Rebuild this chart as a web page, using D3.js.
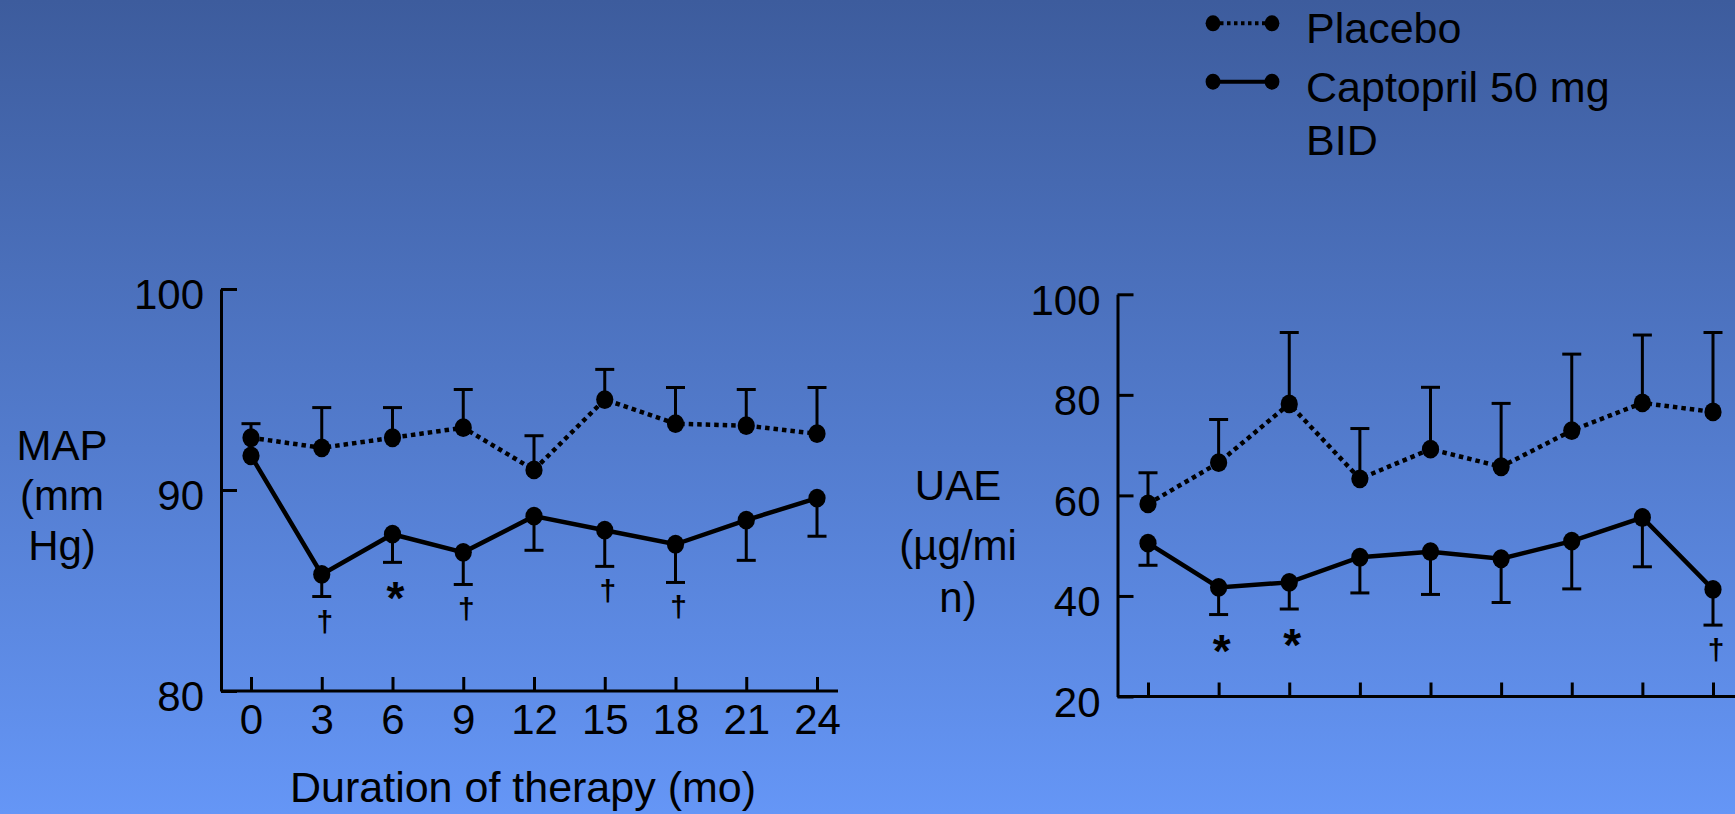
<!DOCTYPE html>
<html lang="en">
<head>
<meta charset="UTF-8">
<title>MAP and UAE by duration of therapy</title>
<script src="https://cdn.jsdelivr.net/npm/d3@7"></script>
<style>
  html, body { margin: 0; padding: 0; overflow: hidden; }
  svg text { font-family: "Liberation Sans", Arial, sans-serif; fill: #000; }
</style>
</head>
<body>
<div id="chart"></div>
<script>
// months on the x axis
const months = [0, 3, 6, 9, 12, 15, 18, 21, 24];

// MAP (mm Hg)
const mapPlacebo     = [92.6, 92.1, 92.6, 93.1, 91.0, 94.5, 93.3, 93.2, 92.8];
const mapPlaceboHi   = [93.3, 94.1, 94.1, 95.0, 92.7, 96.0, 95.1, 95.0, 95.1];
const mapCaptopril   = [91.7, 85.8, 87.8, 86.9, 88.7, 88.0, 87.3, 88.5, 89.6];
const mapCaptoprilLo = [null, 84.7, 86.4, 85.3, 87.0, 86.2, 85.4, 86.5, 87.7];
const mapMarks       = ["", "†", "*", "†", "", "†", "†", "", ""];
const mapTicks       = [80, 90, 100];

// UAE (µg/min), right panel
const uaePlacebo     = [58.3, 66.5, 78.2, 63.3, 69.2, 65.7, 72.9, 78.4, 76.6];
const uaePlaceboHi   = [64.5, 75.1, 92.4, 73.3, 81.5, 78.3, 88.1, 91.9, 92.4];
const uaeCaptopril   = [50.5, 41.7, 42.7, 47.7, 48.8, 47.4, 50.9, 55.6, 41.3];
const uaeCaptoprilLo = [46.1, 36.3, 37.4, 40.6, 40.3, 38.7, 41.4, 45.8, 34.2];
const uaeMarks       = ["", "*", "*", "", "", "", "", "", "†"];
const uaeTicks       = [20, 40, 60, 80, 100];

const legendLabels = [["Placebo"], ["Captopril 50 mg", "BID"]];
const legendDashed = [true, false];

const width = 1735, height = 814;

const svg = d3.select("#chart").append("svg")
    .attr("width", width)
    .attr("height", height);

const grad = svg.append("defs").append("linearGradient")
    .attr("id", "bg").attr("x1", 0).attr("y1", 0).attr("x2", 0).attr("y2", 1);
grad.append("stop").attr("offset", "0%").attr("stop-color", "#3d5c9d");
grad.append("stop").attr("offset", "100%").attr("stop-color", "#6596f6");

svg.append("rect")
    .attr("width", width).attr("height", height)
    .attr("fill", "url(#bg)");

function styleAxis(g) {
    g.attr("font-size", 42)
     .attr("font-family", '"Liberation Sans", Arial, sans-serif')
     .attr("color", "#000");
    g.selectAll(".domain").attr("stroke-width", 3);
    g.selectAll(".tick line").attr("stroke-width", 3);
}

function drawPanel(opt) {
    const g = svg.append("g");
    const x = d3.scaleLinear().domain([0, 24]).range(opt.xRange);
    const y = d3.scaleLinear().domain(opt.yDomain).range(opt.yRange);
    const y0 = y(opt.yDomain[0]);

    // y axis, ticks pointing inward
    g.append("g")
        .attr("transform", `translate(${opt.axisX},0)`)
        .call(d3.axisLeft(y).tickValues(opt.yTicks)
            .tickSizeInner(-16).tickSizeOuter(0).tickPadding(17))
        .call(styleAxis)
        .call(a => a.selectAll(".tick text").attr("dy", "0.47em"));

    // x axis, ticks pointing up
    g.append("g")
        .attr("transform", `translate(0,${y0})`)
        .call(d3.axisBottom(x).tickValues(months)
            .tickSizeInner(-14).tickSizeOuter(0).tickPadding(13)
            .tickFormat(opt.xLabels ? d => d : () => ""))
        .call(styleAxis)
        .call(a => a.select(".domain").remove());

    g.append("line")
        .attr("x1", opt.axisX).attr("x2", opt.baseEnd)
        .attr("y1", y0).attr("y2", y0)
        .attr("stroke", "#000").attr("stroke-width", 3);

    // error bars: placebo upward, captopril downward
    const bars = [];
    months.forEach((m, i) => {
        if (opt.placeboHi[i] != null) bars.push({m, from: opt.placebo[i], to: opt.placeboHi[i]});
        if (opt.captoLo[i] != null) bars.push({m, from: opt.capto[i], to: opt.captoLo[i]});
    });
    const eb = g.append("g").attr("stroke", "#000").attr("stroke-width", 3);
    eb.selectAll(".stem").data(bars).join("line")
        .attr("x1", d => x(d.m)).attr("x2", d => x(d.m))
        .attr("y1", d => y(d.from)).attr("y2", d => y(d.to));
    eb.selectAll(".cap").data(bars).join("line")
        .attr("x1", d => x(d.m) - 9.5).attr("x2", d => x(d.m) + 9.5)
        .attr("y1", d => y(d.to)).attr("y2", d => y(d.to));

    const line = d3.line().x((d, i) => x(months[i])).y(d => y(d));

    g.append("path").datum(opt.placebo)
        .attr("d", line).attr("fill", "none")
        .attr("stroke", "#000").attr("stroke-width", 4.5)
        .attr("stroke-dasharray", "4.5,4");
    g.append("path").datum(opt.capto)
        .attr("d", line).attr("fill", "none")
        .attr("stroke", "#000").attr("stroke-width", 4.5);

    [opt.placebo, opt.capto].forEach(series => {
        g.append("g").selectAll("ellipse").data(series).join("ellipse")
            .attr("cx", (d, i) => x(months[i]))
            .attr("cy", d => y(d))
            .attr("rx", 8.6).attr("ry", 9.4)
            .attr("fill", "#000");
    });

    // significance marks under the captopril error bars
    g.append("g").selectAll("text")
        .data(months.map((m, i) => ({m, mark: opt.marks[i], lo: opt.captoLo[i]})).filter(d => d.mark))
        .join("text")
        .attr("x", d => x(d.m) + 3)
        .attr("y", d => y(d.lo) + (d.mark === "*" ? 52 : 35))
        .attr("text-anchor", "middle")
        .attr("font-weight", "bold")
        .attr("font-size", d => d.mark === "*" ? 46 : 30)
        .text(d => d.mark);

    // stacked y label
    g.append("text")
        .attr("text-anchor", "middle")
        .attr("font-size", 42)
        .selectAll("tspan").data(opt.yLabel).join("tspan")
        .attr("x", opt.yLabelX)
        .attr("y", (d, i) => opt.yLabelY[i])
        .text(d => d);
}

drawPanel({
    xRange: [251, 817], yDomain: [80, 100], yRange: [691, 289],
    axisX: 221, baseEnd: 838, yTicks: mapTicks, xLabels: true,
    placebo: mapPlacebo, placeboHi: mapPlaceboHi,
    capto: mapCaptopril, captoLo: mapCaptoprilLo, marks: mapMarks,
    yLabel: ["MAP", "(mm", "Hg)"], yLabelX: 62, yLabelY: [460, 510, 560]
});

drawPanel({
    xRange: [1148, 1713], yDomain: [20, 100], yRange: [696.5, 294.3],
    axisX: 1117.5, baseEnd: 1735, yTicks: uaeTicks, xLabels: false,
    placebo: uaePlacebo, placeboHi: uaePlaceboHi,
    capto: uaeCaptopril, captoLo: uaeCaptoprilLo, marks: uaeMarks,
    yLabel: ["UAE", "(µg/mi", "n)"], yLabelX: 958, yLabelY: [500, 560, 612]
});

svg.append("text")
    .attr("x", 523).attr("y", 802)
    .attr("text-anchor", "middle")
    .attr("font-size", 43)
    .text("Duration of therapy (mo)");

// legend
const legend = svg.append("g");
const rowY = [23.3, 81.7];
legendLabels.forEach((lines, i) => {
    const row = legend.append("g");
    row.append("line")
        .attr("x1", 1213).attr("x2", 1272)
        .attr("y1", rowY[i]).attr("y2", rowY[i])
        .attr("stroke", "#000").attr("stroke-width", 4)
        .attr("stroke-dasharray", legendDashed[i] ? "3.5,3.5" : null);
    row.selectAll("ellipse").data([1213, 1272]).join("ellipse")
        .attr("cx", d => d).attr("cy", rowY[i])
        .attr("rx", 7.4).attr("ry", 8).attr("fill", "#000");
    row.append("text")
        .attr("font-size", 43)
        .selectAll("tspan").data(lines).join("tspan")
        .attr("x", 1306)
        .attr("y", (d, j) => rowY[i] + 20 + j * 53.5)
        .text(d => d);
});
</script>
</body>
</html>
